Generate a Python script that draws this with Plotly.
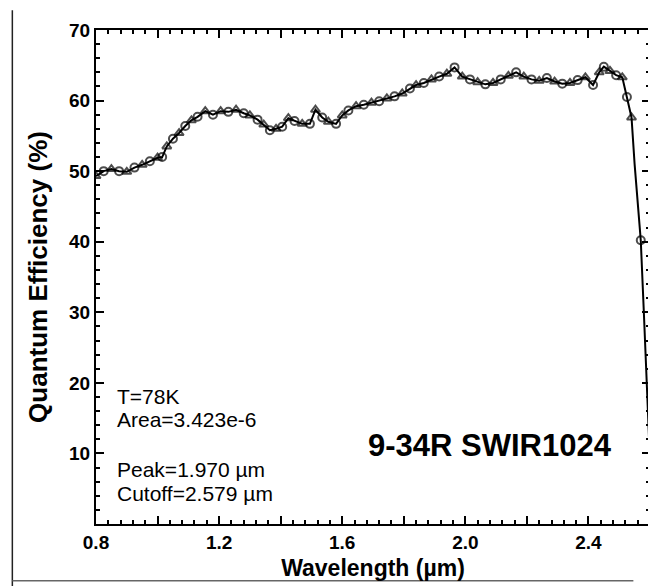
import plotly.graph_objects as go

# Wavelength (µm) and quantum efficiency (%)
wavelength = [0.80, 0.825, 0.85, 0.875, 0.90, 0.925, 0.95, 0.975, 1.00, 1.015,
              1.03, 1.05, 1.07, 1.09, 1.11, 1.13, 1.155, 1.18, 1.205, 1.23,
              1.255, 1.28, 1.30, 1.325, 1.345, 1.365, 1.385, 1.405, 1.425, 1.445,
              1.47, 1.495, 1.513, 1.535, 1.555, 1.58, 1.60, 1.62, 1.645, 1.67,
              1.695, 1.72, 1.745, 1.77, 1.795, 1.82, 1.84, 1.865, 1.89, 1.915,
              1.94, 1.965, 1.99, 2.015, 2.04, 2.065, 2.09, 2.115, 2.14, 2.165,
              2.19, 2.215, 2.24, 2.265, 2.29, 2.315, 2.34, 2.365, 2.39, 2.415,
              2.435, 2.45, 2.47, 2.49, 2.51, 2.525, 2.54, 2.55, 2.56, 2.57,
              2.58, 2.59, 2.597]
qe = [49.3, 50.0, 50.3, 50.0, 49.9, 50.5, 50.9, 51.4, 51.9, 52.0,
      53.5, 54.6, 55.4, 56.4, 57.2, 57.7, 58.5, 58.0, 58.5, 58.4,
      58.7, 58.2, 57.9, 57.3, 56.6, 55.8, 56.0, 56.3, 57.5, 57.1,
      56.7, 56.7, 58.7, 57.6, 57.0, 56.7, 57.9, 58.6, 59.2, 59.4,
      59.7, 59.9, 60.3, 60.6, 61.0, 61.7, 62.2, 62.5, 63.0, 63.4,
      63.8, 64.7, 63.4, 63.0, 62.6, 62.3, 62.5, 63.0, 63.5, 64.0,
      63.4, 63.0, 62.8, 63.2, 62.7, 62.4, 62.5, 62.9, 63.3, 62.2,
      64.0, 64.8, 64.2, 63.6, 63.3, 60.5, 57.6, 51.0, 46.0, 40.2,
      30.0, 20.0, 12.0]

x_tick_vals = [0.8, 1.0, 1.2, 1.4, 1.6, 1.8, 2.0, 2.2, 2.4]
x_tick_text = ["0.8", "", "1.2", "", "1.6", "", "2.0", "", "2.4"]
y_tick_vals = [10, 20, 30, 40, 50, 60, 70]
y_tick_text = ["10", "20", "30", "40", "50", "60", "70"]

x_title = "Wavelength (µm)"
y_title = "Quantum Efficiency (%)"
info_lines = ["T=78K", "Area=3.423e-6", "Peak=1.970 µm", "Cutoff=2.579 µm"]
device_label = "9-34R SWIR1024"

# marker styling: alternate triangles and circles, no markers on the steep drop
symbols = []
sizes = []
for i, v in enumerate(qe):
    symbols.append("triangle-up-open" if i % 2 == 0 else "circle-open")
    sizes.append(8 if (v > 55 or i < 20 or v == 40.2) else 0)

FONT = "Liberation Sans, Arial, sans-serif"

fig = go.Figure()
fig.add_trace(go.Scatter(
    x=wavelength, y=qe, mode="lines",
    line=dict(color="black", width=2),
    showlegend=False, hoverinfo="skip"))
fig.add_trace(go.Scatter(
    x=wavelength, y=qe, mode="markers",
    marker=dict(symbol=symbols, size=sizes, color="black",
                line=dict(color="black", width=2)),
    showlegend=False))

axis_common = dict(
    showline=True, linecolor="black", linewidth=2, mirror="allticks",
    ticks="inside", tickcolor="black", tickwidth=2, ticklen=8,
    showgrid=False, zeroline=False, layer="above traces",
    tickfont=dict(family=FONT, size=19, color="black", weight="bold"),
)

fig.update_xaxes(
    range=[0.8, 2.6], tickvals=x_tick_vals, ticktext=x_tick_text,
    minor=dict(ticks="inside", dtick=0.04, ticklen=4, tickwidth=1.5,
               tickcolor="black", tick0=0.8, showgrid=False),
    title=dict(text=x_title, standoff=8,
               font=dict(family=FONT, size=23, color="black", weight="bold")),
    **axis_common)
fig.update_yaxes(
    range=[0, 70], tickvals=y_tick_vals, ticktext=y_tick_text,
    minor=dict(ticks="inside", dtick=2, ticklen=4, tickwidth=1.5,
               tickcolor="black", showgrid=False),
    title=dict(text=y_title, standoff=14,
               font=dict(family=FONT, size=26, color="black", weight="bold")),
    **axis_common)

annotations = []
info_y = [0.258, 0.212, 0.111, 0.0615]
for txt, yy in zip(info_lines, info_y):
    annotations.append(dict(
        text=txt, xref="paper", yref="paper", x=0.034, y=yy,
        xanchor="left", yanchor="middle", showarrow=False,
        font=dict(family=FONT, size=21, color="black")))
annotations.append(dict(
    text=device_label, xref="paper", yref="paper", x=0.935, y=0.159,
    xanchor="right", yanchor="middle", showarrow=False,
    font=dict(family=FONT, size=31, color="black", weight="bold")))

shapes = [
    dict(type="line", xref="paper", yref="paper", x0=-0.151, x1=-0.151,
         y0=-0.13, y1=1.04, line=dict(color="#222", width=1.5)),
    dict(type="line", xref="paper", yref="paper", x0=-0.151, x1=0.97,
         y0=-0.115, y1=-0.115, line=dict(color="#666", width=1.5)),
]

# page body adds an 8px offset; plot area lands near x 96..651, y 20..524
fig.update_layout(
    width=656, height=586,
    margin=dict(l=88, r=13, t=12, b=70),
    plot_bgcolor="white", paper_bgcolor="white",
    annotations=annotations, shapes=shapes,
    font=dict(family=FONT, color="black"),
)

fig.write_html("out.html")
